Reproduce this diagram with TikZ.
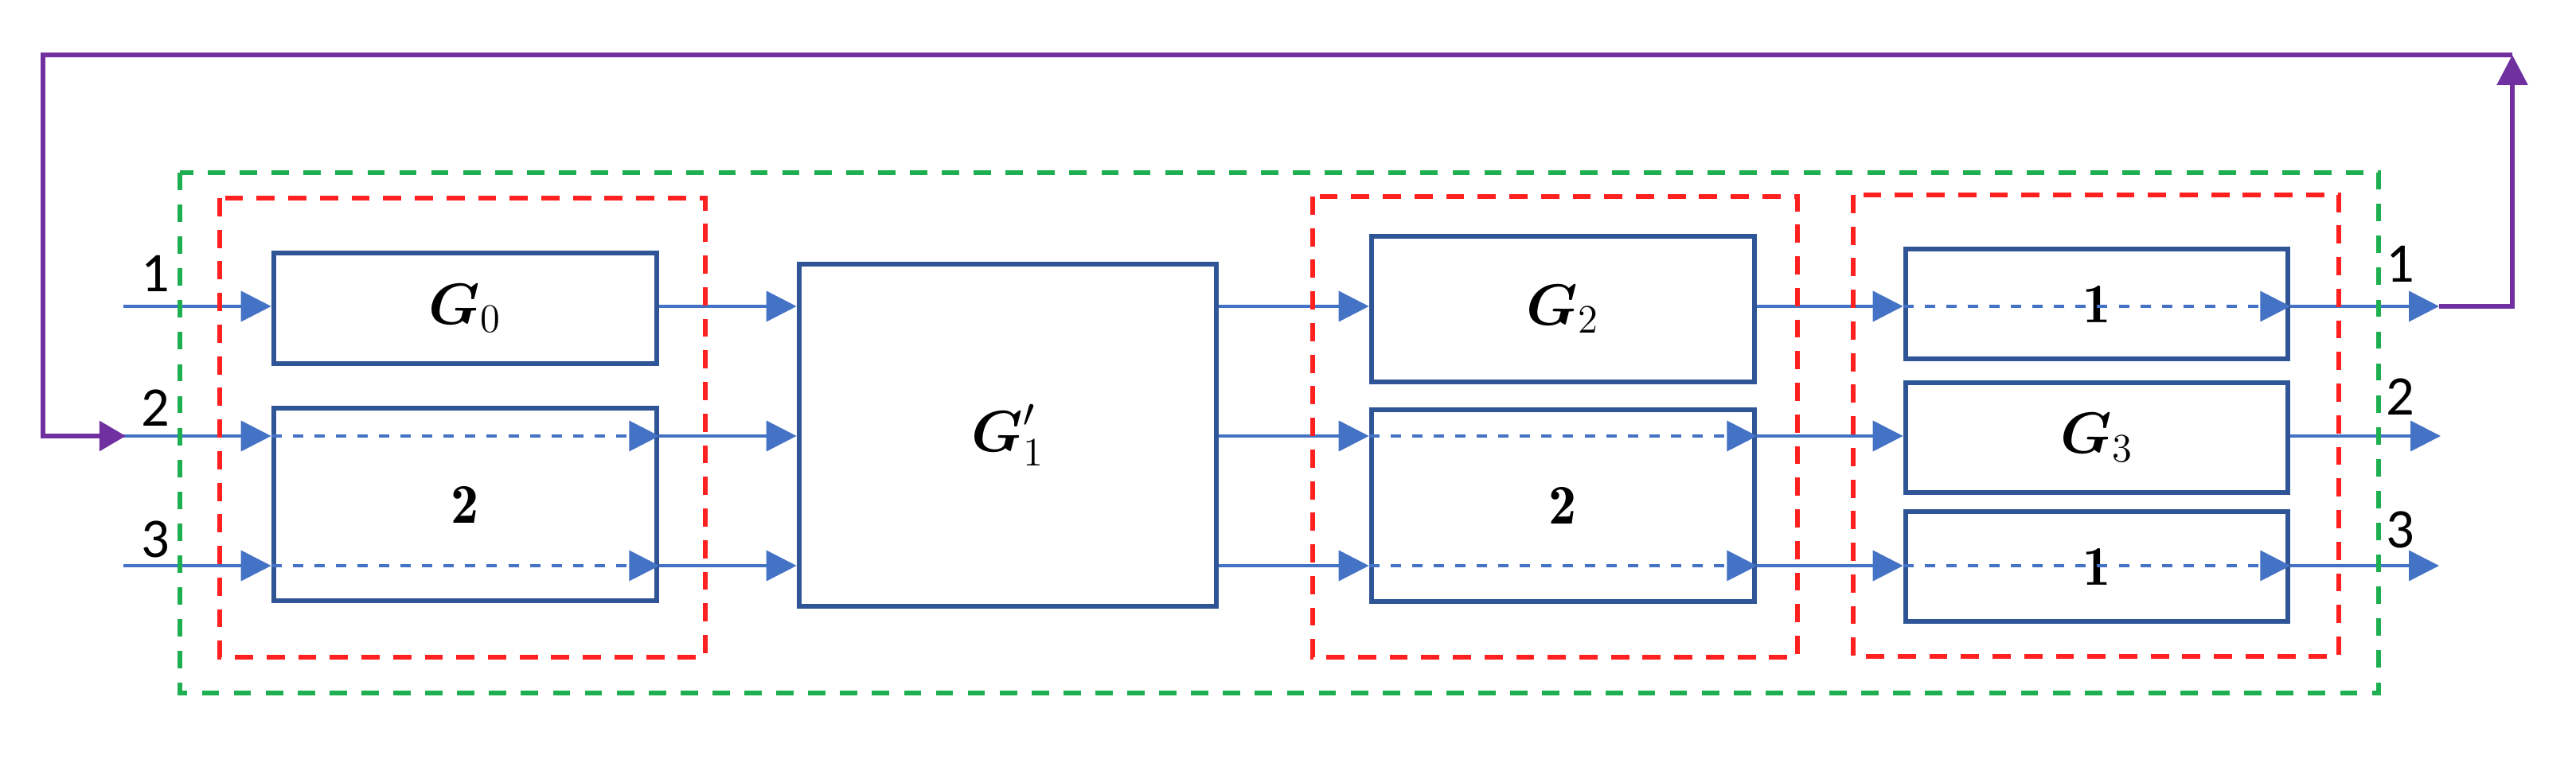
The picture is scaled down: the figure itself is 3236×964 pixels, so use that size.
\documentclass[tikz,border=0pt]{standalone}
\usepackage{amsmath}
\usepackage{fontspec}
\setsansfont{Carlito}
\usetikzlibrary{arrows.meta}
\definecolor{boxblue}{RGB}{47,85,151}
\definecolor{lineblue}{RGB}{68,114,196}
\definecolor{dred}{RGB}{255,32,32}
\definecolor{dgreen}{RGB}{30,176,80}
\definecolor{dpurple}{RGB}{112,48,160}
\begin{document}
\begin{tikzpicture}[x=0.01cm,y=-0.01cm,
 blk/.style={draw=boxblue, line width=1.8pt, rectangle, inner sep=0pt, font=\fontsize{20}{24}\selectfont},
 conn/.style={draw=lineblue, line width=1.05pt, -{Triangle[length=10.8pt,width=10.8pt]}},
 innerconn/.style={conn, dash pattern=on 3.7pt off 4pt},
 redbox/.style={draw=dred, line width=1.8pt, dash pattern=on 6.5pt off 4.8pt},
 greenbox/.style={draw=dgreen, line width=1.8pt, dash pattern=on 6.2pt off 5.2pt},
 fb/.style={draw=dpurple, line width=1.65pt},
 lbl/.style={font=\sffamily\fontsize{20}{24}\selectfont, inner sep=0pt}
]
\useasboundingbox (0,0) rectangle (3236,964);

% blocks
\node[blk, minimum width=4.81cm, minimum height=1.39cm] (G0) at (584.5,387.5) {$\boldsymbol{G}_0$};
\node[blk, minimum width=4.81cm, minimum height=2.42cm] (A2) at (584.5,634) {$\mathbf{2}$};
\node[blk, minimum width=5.24cm, minimum height=4.30cm] (G1) at (1266,547) {$\boldsymbol{G}_1'$};
\node[blk, minimum width=4.81cm, minimum height=1.83cm] (G2) at (1963.5,388.5) {$\boldsymbol{G}_2$};
\node[blk, minimum width=4.81cm, minimum height=2.41cm] (B2) at (1963.5,635.5) {$\mathbf{2}$};
\node[blk, minimum width=4.80cm, minimum height=1.38cm] (C1) at (2634,382) {$\mathbf{1}$};
\node[blk, minimum width=4.80cm, minimum height=1.38cm] (G3) at (2634,550) {$\boldsymbol{G}_3$};
\node[blk, minimum width=4.80cm, minimum height=1.38cm] (C3) at (2634,712) {$\mathbf{1}$};

% row coordinates
\coordinate (i1) at (155,385);
\coordinate (i2) at (155,548);
\coordinate (i3) at (155,711);
\coordinate (o1) at (3064,385);
\coordinate (o2) at (3066,548);
\coordinate (o3) at (3064,711);
\coordinate (pr) at (3156,69);
\coordinate (pl) at (54,69);
\coordinate (pe) at (158,548);

% labels
\node[lbl] (l1) at (195,344) {1};
\node[lbl] (l2) at (195,513) {2};
\node[lbl] (l3) at (195,678) {3};
\node[lbl] (r1) at (3015,332) {1};
\node[lbl] (r2) at (3015,499) {2};
\node[lbl] (r3) at (3015,666) {3};

% connectors
\draw[conn] (i1) -- (i1 -| G0.west);
\draw[conn] (i2) -- (i2 -| A2.west);
\draw[conn] (i3) -- (i3 -| A2.west);
\draw[innerconn] (i2 -| A2.west) -- (i2 -| A2.east);
\draw[innerconn] (i3 -| A2.west) -- (i3 -| A2.east);
\draw[conn] (i1 -| G0.east) -- (i1 -| G1.west);
\draw[conn] (i2 -| A2.east) -- (i2 -| G1.west);
\draw[conn] (i3 -| A2.east) -- (i3 -| G1.west);
\draw[conn] (i1 -| G1.east) -- (i1 -| G2.west);
\draw[conn] (i2 -| G1.east) -- (i2 -| B2.west);
\draw[conn] (i3 -| G1.east) -- (i3 -| B2.west);
\draw[innerconn] (i2 -| B2.west) -- (i2 -| B2.east);
\draw[innerconn] (i3 -| B2.west) -- (i3 -| B2.east);
\draw[conn] (i1 -| G2.east) -- (i1 -| C1.west);
\draw[conn] (i2 -| B2.east) -- (i2 -| G3.west);
\draw[conn] (i3 -| B2.east) -- (i3 -| C3.west);
\draw[innerconn] (i1 -| C1.west) -- (i1 -| C1.east);
\draw[innerconn] (i3 -| C3.west) -- (i3 -| C3.east);
\draw[conn] (i1 -| C1.east) -- (o1);
\draw[conn] (i2 -| G3.east) -- (o2);
\draw[conn] (i3 -| C3.east) -- (o3);

% feedback
\draw[fb, -{Triangle[length=10.8pt,width=10.8pt]}] (o1) -- (pr |- o1) -- (pr);
\draw[fb, -{Triangle[length=9.4pt,width=10.5pt]}] (pr) -- (pl) -- (pl |- pe) -- (pe);

% frames
\draw[redbox] (276,249) rectangle (886,826);
\draw[redbox] (1649,247) rectangle (2258,826);
\draw[redbox] (2328,245) rectangle (2938,825);
\draw[greenbox] (226,217) rectangle (2988,871);
\end{tikzpicture}
\end{document}
